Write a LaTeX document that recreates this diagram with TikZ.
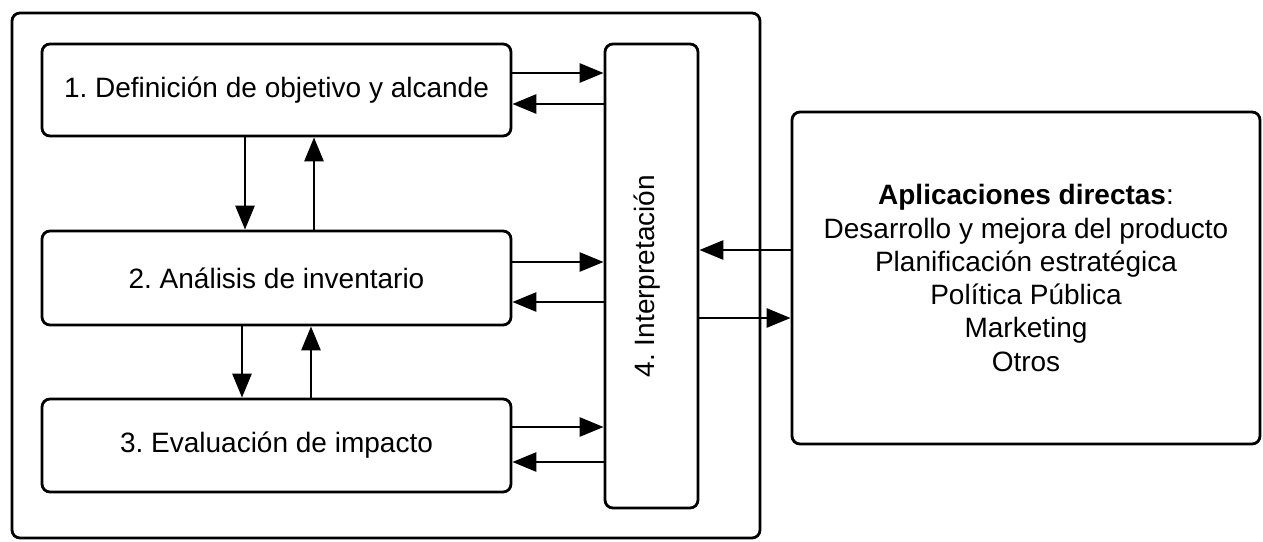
\documentclass[tikz,border=0pt]{standalone}
\usepackage{fontspec}
\setmainfont{Liberation Sans}
\usetikzlibrary{arrows.meta}
\begin{document}
\frenchspacing
\begin{tikzpicture}[x=1pt,y=-1pt,
  box/.style={draw=black, line width=2.8pt, rounded corners=8pt, fill=white, inner sep=0pt, align=center,
    font=\fontsize{28}{33.3}\selectfont},
  arr/.style={line width=2.8pt, -{Triangle[length=24pt,width=19pt]}}]
\useasboundingbox (0,0) rectangle (1263,541);
\node[box, minimum width=748pt, minimum height=525pt] (outer) at (386,275.5) {};
\node[box, minimum width=469pt, minimum height=92pt] (b1) at (276.5,90) {1. Definición de objetivo y alcande};
\node[box, minimum width=469pt, minimum height=94pt] (b2) at (276.5,278) {2. Análisis de inventario};
\node[box, minimum width=469pt, minimum height=93pt] (b3) at (276.5,445.5) {3. Evaluación de impacto};
\node[box, minimum width=93pt, minimum height=464pt] (i) at (651.5,276) {};
\node[rotate=90, font=\fontsize{28}{33.3}\selectfont] (it) at ([xshift=-4pt]i.center) {4. Interpretación};
\node[box, minimum width=468pt, minimum height=332pt] (r) at (1026,278) {\textbf{Aplicaciones directas}:\\Desarrollo y mejora del producto\\Planificación estratégica\\Política Pública\\Marketing\\Otros};
% box to interpretation
\draw[arr] (b1.east |- 0,73) -- (i.west |- 0,73);
\draw[arr] (i.west |- 0,104) -- (b1.east |- 0,104);
\draw[arr] (b2.east |- 0,262) -- (i.west |- 0,262);
\draw[arr] (i.west |- 0,302) -- (b2.east |- 0,302);
\draw[arr] (b3.east |- 0,427) -- (i.west |- 0,427);
\draw[arr] (i.west |- 0,462) -- (b3.east |- 0,462);
% vertical
\draw[arr] (b1.south -| 245,0) -- (b2.north -| 245,0);
\draw[arr] (b2.north -| 314,0) -- (b1.south -| 314,0);
\draw[arr] (b2.south -| 242,0) -- (b3.north -| 242,0);
\draw[arr] (b3.north -| 311,0) -- (b2.south -| 311,0);
% right box
\draw[arr] (r.west |- 0,250) -- (i.east |- 0,250);
\draw[arr] (i.east |- 0,318) -- (r.west |- 0,318);
\end{tikzpicture}
\end{document}
